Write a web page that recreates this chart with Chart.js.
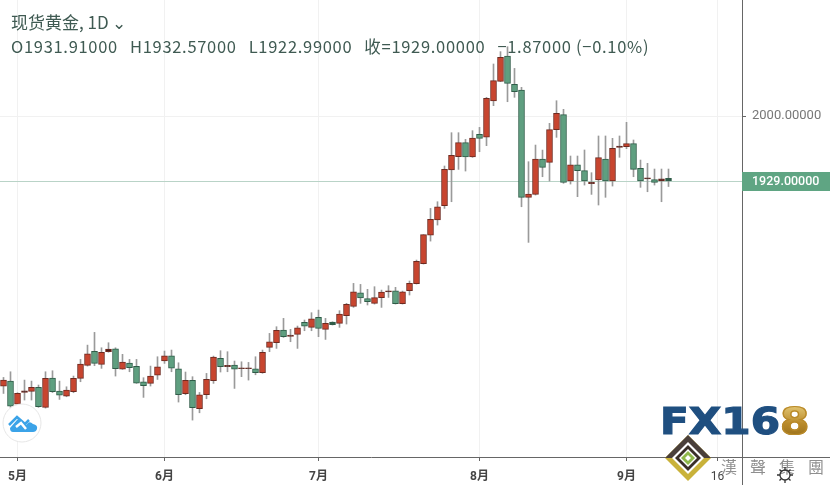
<!DOCTYPE html>
<html>
<head>
<meta charset="utf-8">
<script src="https://cdn.jsdelivr.net/npm/chart.js@4/dist/chart.umd.min.js"></script>
<style>
  html, body { margin: 0; padding: 0; background: #fff; }
  #wrap { position: relative; width: 830px; height: 485px; overflow: hidden; }
  #grafico { position: absolute; left: 0; top: 0; }
  .cabecera { position: absolute; left: 11px; color: #3f5a52; white-space: nowrap; font-family: "Noto Sans CJK SC", "Open Sans", sans-serif; }
  #titulo { top: 11px; font-size: 17px; line-height: 22px; }
  #ohlc { top: 35px; font-size: 16.5px; line-height: 22px; letter-spacing: 0.7px; }
  #ohlc span { margin-right: 12px; }
  #marca { position: absolute; left: 660px; top: 401px; font: 900 37px/42px "DejaVu Sans", sans-serif; color: #1f4f80; white-space: nowrap; transform: scaleX(1.14); transform-origin: left top; -webkit-text-stroke: 1.2px #1f4f80; }
  #marca b { color: #b98a2a; background: linear-gradient(#f0d98a, #b98a2a 55%, #8a6414); -webkit-background-clip: text; background-clip: text; -webkit-text-fill-color: transparent; -webkit-text-stroke: 1.2px #b98a2a; }
  #grupo { position: absolute; left: 721px; top: 455px; font: 16px/22px "Noto Sans CJK TC", serif; letter-spacing: 13px; color: #8f8f8f; white-space: nowrap; }
  svg { position: absolute; }
</style>
</head>
<body>
<div id="wrap">
  <canvas id="grafico" width="830" height="485"></canvas>
  <div class="cabecera" id="titulo">现货黄金, 1D ⌄</div>
  <div class="cabecera" id="ohlc"><span>O1931.91000</span><span>H1932.57000</span><span>L1922.99000</span><span>收=1929.00000</span><span>−1.87000 (−0.10%)</span></div>

  <svg style="left:2px;top:403px" width="40" height="40" viewBox="0 0 40 40">
    <circle cx="20" cy="20" r="19" fill="#fff" stroke="#e6e6e6"/>
    <path d="M8 25 L15 17 Q17 15 19 17 L24 22 L26 20 Q28 18 31 21 Q36 22 35 26 Q34 29 31 29 L11 29 Q8 29 8 25 Z" fill="#3ba3e8"/>
    <path d="M7 22 L15 14 L23 21 L27 17" fill="none" stroke="#3ba3e8" stroke-width="2.5"/>
    <path d="M14 24 L19 20 L24 26" fill="none" stroke="#fff" stroke-width="2.5"/>
  </svg>

  <div id="marca">FX16<b>8</b></div>
  <svg style="left:665px;top:435px" width="46" height="46" viewBox="0 0 46 46">
    <polygon points="23,0 46,23 23,46 0,23" fill="#c9b23a"/>
    <polygon points="23,0 46,23 23,23 0,23" fill="#4a3f3a"/>
    <polygon points="23,7 39,23 23,39 7,23" fill="#fff"/>
    <polygon points="23,10 36,23 23,36 10,23" fill="#3a2f28"/>
    <polygon points="23,14 32,23 23,32 14,23" fill="#fff"/>
    <polygon points="23,16 30,23 23,30 16,23" fill="#8fb84a"/>
    <polygon points="23,20 26,23 23,26 20,23" fill="#fff"/>
  </svg>
  <div id="grupo">漢聲集團</div>
  <svg style="left:776px;top:466px" width="18" height="18" viewBox="0 0 18 18">
    <circle cx="9" cy="9" r="5" fill="none" stroke="#333" stroke-width="1.3"/>
    <path d="M9 1V4M9 14V17M1 9H4M14 9H17M3.5 3.5L5.5 5.5M12.5 12.5L14.5 14.5M3.5 14.5L5.5 12.5M12.5 5.5L14.5 3.5" stroke="#333" stroke-width="1.3"/>
  </svg>
</div>

<script>
// Fechas de cada vela y huecos futuros del eje
const categories = ['4/29','4/30','5/1','5/4','5/5','5/6','5/7','5/8','5/11','5/12','5/13','5/14','5/15','5/18','5/19','5/20','5/21','5/22','5/25','5/26','5/27','5/28','5/29',
    '6/1','6/2','6/3','6/4','6/5','6/8','6/9','6/10','6/11','6/12','6/15','6/16','6/17','6/18','6/19','6/22','6/23','6/24','6/25','6/26','6/29','6/30',
    '7/1','7/2','7/3','7/6','7/7','7/8','7/9','7/10','7/13','7/14','7/15','7/16','7/17','7/20','7/21','7/22','7/23','7/24','7/27','7/28','7/29','7/30','7/31',
    '8/3','8/4','8/5','8/6','8/7','8/10','8/11','8/12','8/13','8/14','8/17','8/18','8/19','8/20','8/21','8/24','8/25','8/26','8/27','8/28','8/31',
    '9/1','9/2','9/3','9/4','9/7','9/8','9/9','9/10','9/11','9/12','9/13','9/14','9/15','9/16','9/17','9/18','9/19'];

const tickDates = ['5/1', '6/1', '7/1', '8/3', '9/1', '9/16'];
const tickLabels = ['5月', '6月', '7月', '8月', '9月', '16'];
const priceTicks = [2000];
const lastClose = 1929;

const opens = [1705,1710.5,1685.4,1698.1,1699.2,1703.6,1681.8,1713.8,1699.6,1694.1,1698.9,1713.4,1727.6,1742.9,1728.7,1742.6,1745.8,1723.6,1730.2,1726.5,1709.8,1708,1717.1,1732.4,1738.2,1724,1696.7,1711.3,1680.3,1695.6,1710.9,1735.3,1726.2,1728,1724,1724,1724,1719.6,
    1747.3,1752.4,1766.2,1759.3,1761.5,1774.6,1769.2,1780.1,1767,1775,1773.5,1781.9,1792.1,1807,1800.5,1795.4,1801.6,1807.8,1809.2,1795,1809.2,1816.9,1838.7,
    1870,1886.4,1902,1941,1955.6,1970.9,1955.2,1980,1977,2016.4,2037.9,2065.5,2034.6,2028.4,1911.1,1914.4,1953,1949.4,1985.1,
    2001.5,1929,1946.8,1940.3,1926.1,1930.1,1953,1929,1965.8,1966.5,1969.8,1942.8,1931.2,1930.5,1929,1931.91];
const highs = [1714.5,1720.7,1697.8,1711.6,1710.5,1706.2,1720.7,1721.8,1710.5,1704.3,1716,1734.2,1749.8,1763.7,1746.9,1752.4,1746.9,1739.7,1734.2,1734.2,1714.2,1726.9,1737.1,1743.3,1744.4,1730.5,1720.4,1715.3,1698.1,1718.9,1737.8,1743.7,1742.6,1732.4,1731.6,1730.9,1737.1,1744.4,
    1762.6,1769.9,1779,1767,1770.6,1777.2,1785.2,1788.1,1779,1775.3,1787.4,1795.4,1817.2,1816.1,1810.7,1813.6,1809.9,1814.7,1812.9,1808.8,1819.8,1842.7,1870.4,
    1899.1,1906.4,1945.4,1981.8,1981.8,1974.5,1984,1987.6,2020.4,2056.8,2070.3,2075.7,2052,2031.3,1950.1,1968.3,1962.8,1992,2016.7,
    2007.3,1956.3,1956.3,1962.9,1938.1,1978.2,1978.2,1975.6,1978.2,1993.1,1973.8,1951.9,1948.3,1942.1,1942.1,1942.1];
const lows = [1697,1681.8,1684.3,1689.8,1689.8,1681.8,1681,1698,1690.5,1693.4,1697.8,1709.8,1726.9,1727.3,1724.4,1742,1716,1723.3,1720.7,1708,1692.7,1705.1,1712.3,1729.8,1720.7,1687.6,1695.6,1667.9,1675.9,1691.2,1708,1720.4,1720.7,1702.5,1715.3,1711.6,1717.4,1719,
    1742.6,1746.2,1758.2,1753.5,1746.2,1765.5,1765.5,1759,1756,1771.7,1769.2,1772.8,1791,1795.4,1793.6,1794.6,1791,1801.9,1794.6,1794.6,1804.5,1816.5,1838.3,
    1863.4,1880.9,1899.1,1906.4,1941.7,1939.9,1954.8,1961,1967.6,2011.3,2037.5,2015.6,2020.4,1900.9,1862,1913.7,1933.7,1929,1976.7,
    1926.5,1925.7,1911.9,1924.6,1914.4,1902.8,1911.2,1923.5,1954.9,1964.3,1933.7,1922.1,1917.3,1924.6,1906.4,1922.99];
const closes = [1711.5,1683.2,1697.1,1700,1703.6,1682.5,1713.4,1698.9,1695.2,1700.7,1713.4,1729.1,1740.4,1729.8,1741.8,1745.5,1724,1731.3,1725.1,1708.3,1705.4,1716,1726.2,1738.2,1724.7,1695.6,1711.3,1681.4,1695.6,1712.3,1736.7,1726.2,1727.6,1723.6,1725.1,1725.1,1719.6,1741.8,
    1753.5,1765.9,1759,1760.8,1768.8,1770.6,1778.6,1768.1,1773.5,1772.1,1783.7,1794.3,1808.1,1801.2,1797.2,1801.6,1807.8,1809.2,1795,1808.1,1817.2,1841.3,1870.4,
    1887.1,1900.9,1941.7,1957,1970.9,1955.2,1976,1975.6,2019.3,2038.6,2064.1,2035.7,2026.6,1911.1,1914.8,1953,1943.9,1985.1,2002.9,
    1927.5,1946.8,1940.3,1929,1927.5,1954.5,1929,1964.7,1967.2,1969.8,1941.7,1929,1932.6,1927.5,1931.5,1929];

const colorSube = '#c8452f', colorBaja = '#5f9f80';
const bordeSube = '#6e2a20', bordeBaja = '#2f5c48';
const colorEtiqueta = '#5fa583';

const cuerpos = opens.map((o, i) => [o, closes[i]]);
const mechas = lows.map((l, i) => [l, highs[i]]);
const sube = opens.map((o, i) => closes[i] >= o);

// Velas muy finas: en la referencia se ven casi solo como el borde oscuro
const relleno = opens.map((o, i) => {
    if (Math.abs(closes[i] - o) < 3)
        return sube[i] ? '#4a1c18' : bordeBaja;
    return sube[i] ? colorSube : colorBaja;
});

const ejesYPrecio = {
    id: 'ejesYPrecio',
    beforeDatasetsDraw(chart) {
        const {ctx, chartArea, scales} = chart;
        const y = Math.round(scales.y.getPixelForValue(lastClose)) + 0.5;
        ctx.save();
        ctx.strokeStyle = '#b9d3c7';
        ctx.beginPath();
        ctx.moveTo(chartArea.left, y);
        ctx.lineTo(chartArea.right, y);
        ctx.stroke();
        ctx.restore();
    },
    afterDraw(chart) {
        const {ctx, chartArea, scales, width, height} = chart;
        const y = Math.round(scales.y.getPixelForValue(lastClose));
        ctx.save();
        // los ejes siguen hasta el borde de la ventana
        ctx.strokeStyle = '#666';
        ctx.beginPath();
        ctx.moveTo(chartArea.right + 0.5, chartArea.bottom);
        ctx.lineTo(chartArea.right + 0.5, height);
        ctx.moveTo(chartArea.right, chartArea.bottom + 0.5);
        ctx.lineTo(width, chartArea.bottom + 0.5);
        ctx.stroke();
        // etiqueta del último precio
        ctx.fillStyle = colorEtiqueta;
        ctx.fillRect(chartArea.right, y - 9, width - chartArea.right, 19);
        ctx.fillStyle = '#fff';
        ctx.font = '500 12.5px Roboto, sans-serif';
        ctx.textBaseline = 'middle';
        ctx.fillText(lastClose.toFixed(5), chartArea.right + 10, y + 1);
        ctx.restore();
    }
};

new Chart(document.getElementById('grafico').getContext('2d'), {
    type: 'bar',
    data: {
        labels: categories,
        datasets: [{
                label: 'Mecha',
                data: mechas,
                backgroundColor: '#9a9a9a',
                barThickness: 1,
                grouped: false,
                order: 2
            }, {
                label: 'Cuerpo',
                data: cuerpos,
                backgroundColor: relleno,
                borderColor: sube.map(s => s ? bordeSube : bordeBaja),
                borderWidth: 1,
                borderSkipped: false,
                barThickness: 6,
                grouped: false,
                order: 1
            }]
    },
    options: {
        responsive: false,
        animation: false,
        devicePixelRatio: 1,
        layout: {padding: 0},
        plugins: {
            legend: {display: false},
            tooltip: {enabled: false}
        },
        scales: {
            x: {
                offset: true,
                afterFit(scale) {
                    scale.height = 28;
                    scale.paddingLeft = 0;
                    scale.paddingRight = 0;
                },
                grid: {
                    offset: false,
                    color: c => tickDates.includes(categories[c.index]) ? '#f1f1f1' : 'transparent',
                    tickColor: c => tickDates.includes(categories[c.index]) ? '#666' : 'transparent',
                    tickLength: 4
                },
                border: {color: '#666'},
                ticks: {
                    autoSkip: false,
                    maxRotation: 0,
                    padding: 9,
                    color: '#444',
                    font: c => ({family: 'Roboto, "Noto Sans CJK SC", sans-serif', size: 12, weight: tickLabels.indexOf(c.tick.label) < 5 ? 'bold' : 'normal'}),
                    callback(value) {
                        const i = tickDates.indexOf(categories[value]);
                        return i >= 0 ? tickLabels[i] : '';
                    }
                }
            },
            y: {
                position: 'right',
                min: 1627.6,
                max: 2126.7,
                afterFit(scale) {
                    scale.width = 88;
                    scale.paddingTop = 0;
                    scale.paddingBottom = 0;
                },
                afterBuildTicks(scale) {
                    scale.ticks = priceTicks.map(v => ({value: v}));
                },
                grid: {color: '#f1f1f1', tickColor: '#666', tickLength: 4},
                border: {color: '#666'},
                ticks: {
                    padding: 6,
                    color: '#777',
                    font: {family: 'Roboto, sans-serif', size: 13},
                    callback: v => v.toFixed(5)
                }
            }
        }
    },
    plugins: [ejesYPrecio]
});
</script>
</body>
</html>
